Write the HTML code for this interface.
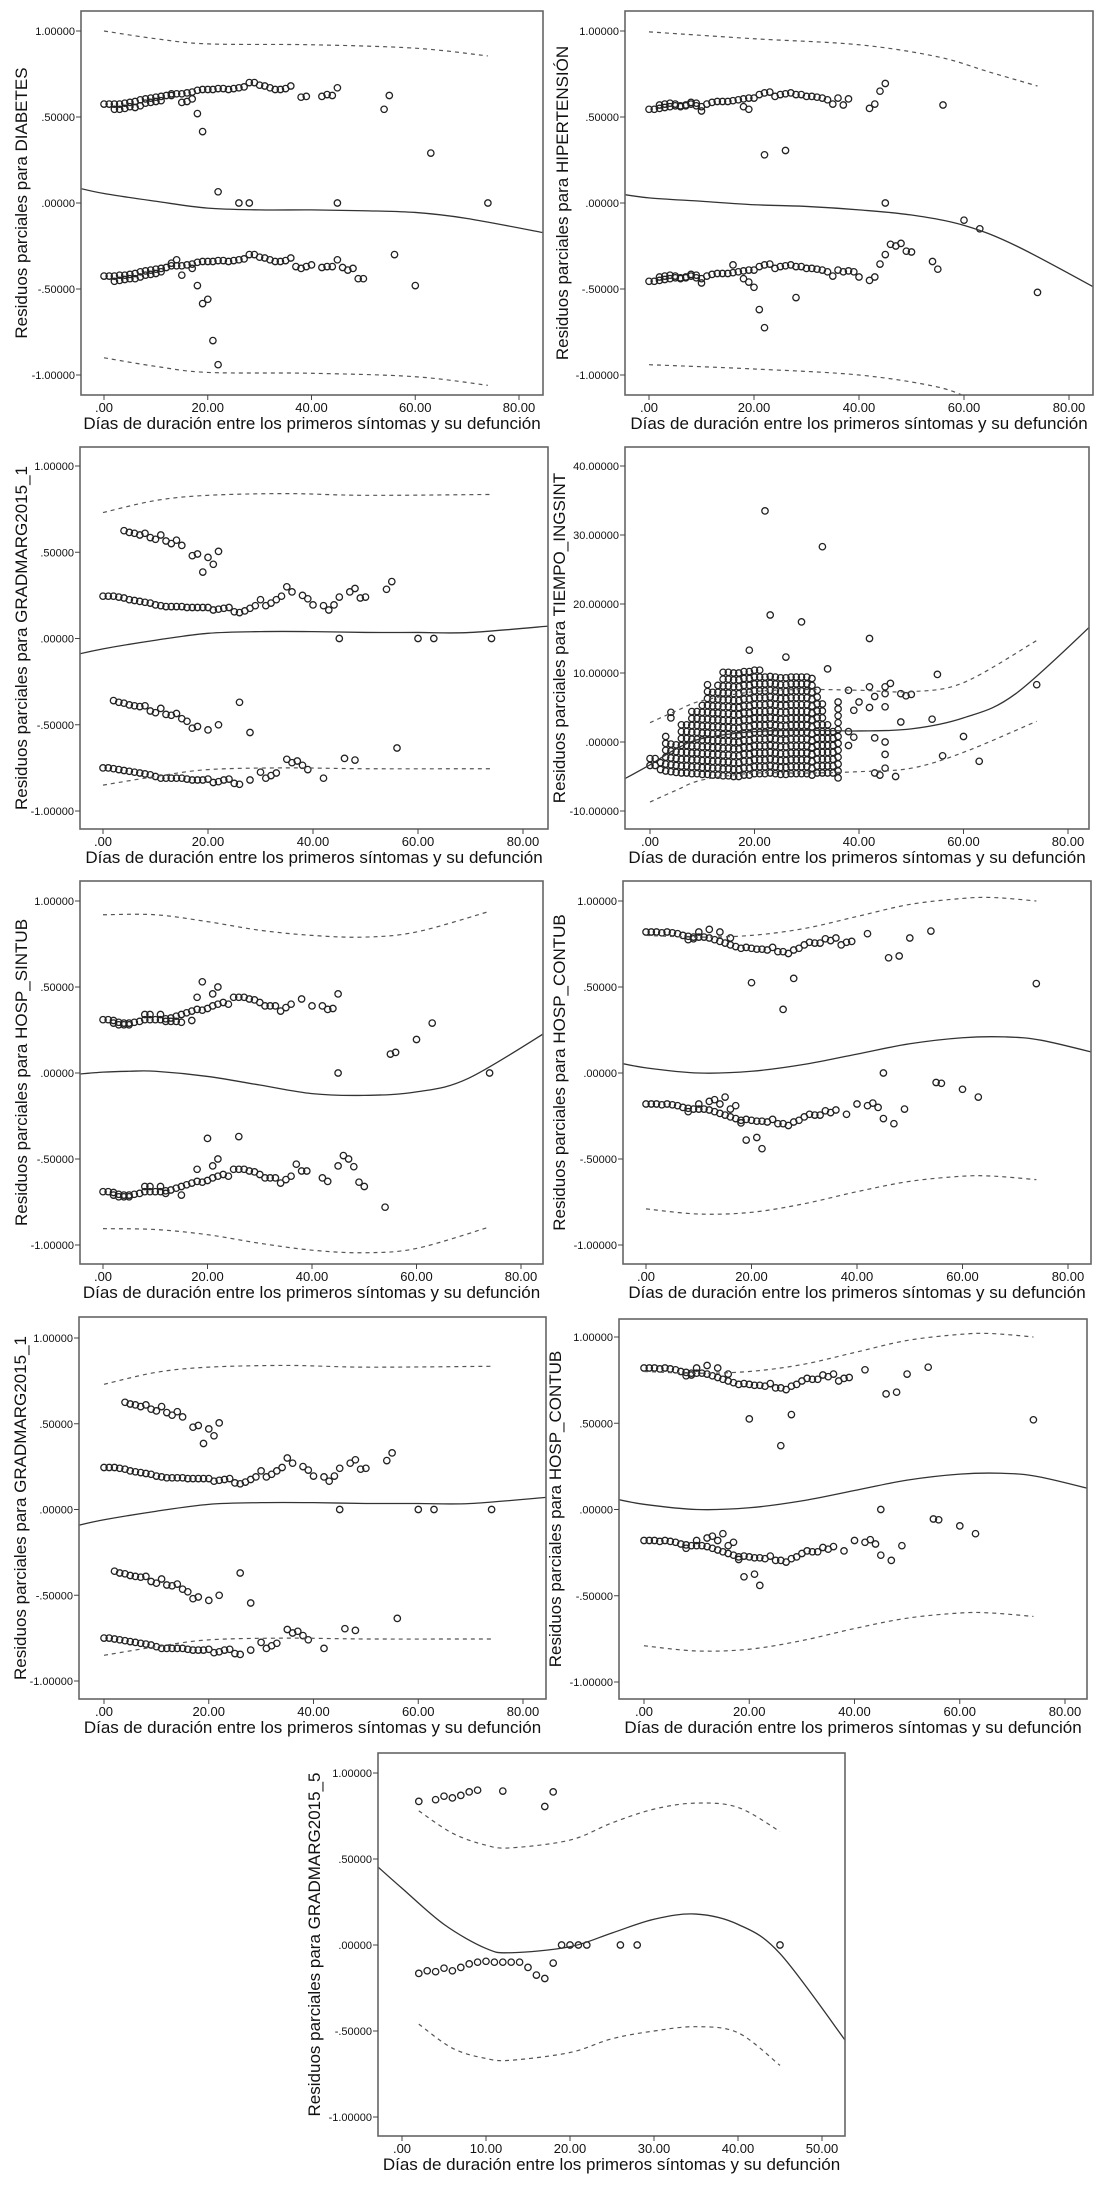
<!DOCTYPE html>
<html><head><meta charset="utf-8"><style>
html,body{margin:0;padding:0;background:#fff;}
svg{display:block;font-family:"Liberation Sans",Arial,sans-serif;}
</style></head><body>
<svg id="fig" width="1100" height="2187" viewBox="0 0 1100 2187" xmlns="http://www.w3.org/2000/svg"></svg>
<script>
// ---------- DATA (x = days, y = partial residual) ----------
const xTicks80 = [0,20,40,60,80];
const xTickLabels80 = [".00","20.00","40.00","60.00","80.00"];
const xTicks50 = [0,10,20,30,40,50];
const xTickLabels50 = [".00","10.00","20.00","30.00","40.00","50.00"];
const yTicksUnit = [1,0.5,0,-0.5,-1];
const yTickLabelsUnit = ["1.00000",".50000",".00000","-.50000","-1.00000"];
const yTicksTiempo = [40,30,20,10,0,-10];
const yTickLabelsTiempo = ["40.00000","30.00000","20.00000","10.00000",".00000","-10.00000"];

// DIABETES
const diabPoints = [[0,.575],[1,.575],[2,.575],[3,.575],[4,.58],[5,.585],[6,.59],[7,.60],[8,.605],[9,.61],[10,.615],[11,.62],[12,.625],[13,.635],[14,.635],[15,.635],[16,.64],[17,.645],[18,.655],[19,.66],[20,.66],[21,.66],[22,.665],[23,.665],[24,.66],[25,.665],[26,.67],[27,.675],[28,.70],[29,.70],[30,.685],[31,.68],[32,.67],[33,.66],[34,.66],[35,.665],[36,.68],
[2,.545],[3,.545],[4,.55],[5,.56],[6,.555],[7,.565],[8,.58],[9,.585],[10,.59],[11,.595],[13,.625],[15,.585],[16,.59],[17,.605],
[18,.52],[19,.415],[22,.065],[26,0],[28,0],[38,.615],[39,.62],[42,.62],[43,.63],[44,.625],[45,.67],[45,0],[54,.545],[55,.625],[63,.29],[74,0],
[0,-.425],[1,-.425],[2,-.425],[3,-.42],[4,-.42],[5,-.415],[6,-.41],[7,-.40],[8,-.395],[9,-.39],[10,-.385],[11,-.38],[12,-.375],[13,-.365],[14,-.365],[15,-.365],[16,-.36],[17,-.355],[18,-.345],[19,-.34],[20,-.34],[21,-.34],[22,-.335],[23,-.335],[24,-.34],[25,-.335],[26,-.33],[27,-.325],[28,-.30],[29,-.30],[30,-.315],[31,-.32],[32,-.33],[33,-.34],[34,-.34],[35,-.335],[36,-.32],
[2,-.455],[3,-.45],[4,-.445],[5,-.44],[6,-.44],[7,-.43],[8,-.42],[9,-.415],[10,-.41],[11,-.40],[13,-.35],[17,-.38],
[14,-.33],[15,-.42],[18,-.48],[19,-.585],[20,-.56],[21,-.80],[22,-.94],[37,-.37],[38,-.38],[39,-.37],[40,-.36],[42,-.375],[43,-.37],[44,-.37],[45,-.33],[46,-.375],[47,-.39],[48,-.38],[49,-.44],[50,-.44],[56,-.30],[60,-.48]];
const diabFit = [[-6,.095],[0,.055],[10,.01],[20,-.03],[30,-.04],[40,-.04],[50,-.045],[60,-.055],[70,-.09],[86,-.18]];
const diabUpper = [[0,1.0],[10,.955],[20,.925],[40,.92],[60,.90],[74,.855]];
const diabLower = [[0,-.90],[10,-.95],[20,-.985],[40,-.99],[60,-1.01],[74,-1.06]];

// HIPERTENSION
const hipPoints = [[0,.545],[1,.545],[2,.55],[3,.555],[4,.56],[5,.565],[6,.565],[7,.57],[8,.575],[9,.565],[10,.56],[11,.575],[12,.585],[13,.59],[14,.59],[15,.59],[16,.595],[17,.60],[18,.605],[19,.61],[20,.61],[21,.63],[22,.64],[23,.645],[24,.62],[25,.63],[26,.635],[27,.64],[28,.63],[29,.63],[30,.62],[31,.62],[32,.615],[33,.61],[34,.60],[35,.575],[36,.61],[37,.57],[38,.605],
[2,.57],[3,.575],[4,.58],[5,.575],[6,.56],[7,.565],[8,.585],[9,.58],[10,.535],
[18,.56],[19,.545],[22,.28],[26,.305],[42,.55],[43,.575],[44,.65],[45,.695],[45,0],[56,.57],[60,-.10],[63,-.15],[74,-.52],
[0,-.455],[1,-.455],[2,-.45],[3,-.445],[4,-.44],[5,-.435],[6,-.435],[7,-.43],[8,-.425],[9,-.435],[10,-.44],[11,-.425],[12,-.415],[13,-.41],[14,-.41],[15,-.41],[16,-.405],[17,-.40],[18,-.395],[19,-.39],[20,-.39],[21,-.37],[22,-.36],[23,-.355],[24,-.38],[25,-.37],[26,-.365],[27,-.36],[28,-.37],[29,-.37],[30,-.38],[31,-.38],[32,-.385],[33,-.39],[34,-.40],[35,-.425],[36,-.39],[37,-.40],[38,-.395],
[2,-.43],[3,-.425],[4,-.42],[5,-.425],[6,-.44],[7,-.435],[8,-.415],[9,-.42],[10,-.465],
[16,-.36],[18,-.44],[19,-.46],[20,-.49],[21,-.62],[22,-.725],[28,-.55],[39,-.40],[40,-.43],[42,-.45],[43,-.43],[44,-.355],[45,-.30],[46,-.24],[47,-.25],[48,-.235],[49,-.28],[50,-.285],[54,-.34],[55,-.385]];
const hipFit = [[-6,.055],[0,.03],[10,.01],[20,-.01],[30,-.02],[40,-.04],[50,-.07],[60,-.13],[70,-.25],[86,-.51]];
const hipUpper = [[0,.995],[20,.955],[40,.92],[55,.85],[65,.76],[74,.68]];
const hipLower = [[0,-.94],[20,-.965],[40,-1.0],[55,-1.07],[62,-1.15]];

// GRADMARG2015_1
const gm1Points = [[4,.625],[5,.615],[6,.61],[7,.60],[8,.61],[9,.585],[10,.575],[11,.60],[12,.565],[13,.55],[14,.57],[15,.54],[17,.48],[18,.49],[19,.385],[20,.47],[21,.43],[22,.505],
[0,.245],[1,.245],[2,.245],[3,.24],[4,.235],[5,.225],[6,.22],[7,.215],[8,.21],[9,.205],[10,.195],[11,.19],[12,.185],[13,.185],[14,.185],[15,.185],[16,.18],[17,.18],[18,.18],[19,.18],[20,.18],[21,.165],[22,.17],[23,.175],[24,.18],[25,.155],[26,.15],[27,.16],[28,.175],[29,.19],[30,.225],[31,.19],[32,.205],[33,.225],[34,.245],[35,.30],[36,.27],[38,.25],[39,.23],[40,.195],[42,.19],[43,.165],[44,.195],[45,.24],[47,.27],[48,.29],[49,.235],[50,.24],[54,.285],[55,.33],
[45,0],[60,0],[63,0],[74,0],
[2,-.36],[3,-.37],[4,-.375],[5,-.385],[6,-.39],[7,-.395],[8,-.39],[9,-.42],[10,-.43],[11,-.405],[12,-.44],[13,-.445],[14,-.435],[15,-.465],[16,-.48],[17,-.52],[18,-.51],[20,-.53],[22,-.50],[26,-.37],[28,-.545],
[0,-.75],[1,-.75],[2,-.755],[3,-.76],[4,-.765],[5,-.77],[6,-.775],[7,-.78],[8,-.785],[9,-.79],[10,-.80],[11,-.81],[12,-.81],[13,-.81],[14,-.81],[15,-.81],[16,-.815],[17,-.82],[18,-.82],[19,-.82],[20,-.815],[21,-.835],[22,-.83],[23,-.82],[24,-.815],[25,-.84],[26,-.845],[28,-.82],[30,-.775],[31,-.81],[32,-.795],[33,-.78],[35,-.70],[36,-.72],[37,-.71],[38,-.735],[39,-.76],[42,-.81],[46,-.695],[48,-.705],[56,-.635]];
const gm1Fit = [[-6,-.10],[0,-.06],[10,-.01],[20,.03],[30,.04],[40,.04],[50,.035],[60,.035],[70,.035],[86,.075]];
const gm1Upper = [[0,.73],[10,.80],[20,.83],[35,.84],[50,.83],[74,.835]];
const gm1Lower = [[0,-.85],[10,-.80],[20,-.76],[35,-.75],[50,-.755],[74,-.755]];

// TIEMPO_INGSINT : dense columns (day, lowest residual, highest residual) + isolated points
const tiempoColDays = [0,1,2,3,4,5,6,7,8,9,10,11,12,13,14,15,16,17,18,19,20,21,22,23,24,25,26,27,28,29,30,31,32,33,34,35,36];
const tiempoColLow  = [-3.4,-3.4,-4,-4.2,-4.3,-4.4,-4.5,-4.5,-4.6,-4.6,-4.7,-4.7,-4.8,-4.8,-4.9,-4.9,-5,-5,-4.8,-4.8,-4.6,-4.6,-4.6,-4.5,-4.6,-4.7,-4.7,-4.6,-4.6,-4.6,-4.6,-4.8,-4.5,-4.5,-4.5,-4.5,-5.2];
const tiempoColHigh = [-2.2,-2.2,-2.2,1.2,0.5,0,3,3,4.8,5,6,8.5,7.5,8.5,10.4,10.4,10.4,10.4,10.4,10.5,10.5,10.5,10.3,10.3,10,9.5,9.5,9.5,9.5,9.5,9.4,9.2,7.5,5.5,2.5,2.2,5.8];
const tiempoPoints = [[4,3.5],[4,4.3],[22,33.5],[33,28.3],[23,18.4],[29,17.4],[19,13.3],[26,12.3],[42,15],[34,10.6],[38,7.5],[40,5.8],[39,4.6],[42,8],[42,5],[43,6.6],[45,8],[45,7],[45,5.1],[46,8.5],[48,7],[49,6.7],[50,6.9],[48,2.9],[54,3.3],[55,9.8],[43,.6],[45,0],[45,-1.8],[43,-4.5],[44,-4.8],[45,-3.8],[47,-5],[38,1.5],[39,.7],[38,-.5],[56,-2],[60,.8],[63,-2.8],[74,8.3]];
const tiempoFit = [[-6,-5.8],[0,-3.3],[5,-1],[10,.5],[20,1.5],[30,1.7],[40,1.6],[50,1.9],[60,3.5],[70,7],[86,18]];
const tiempoUpper = [[0,2.8],[5,4.5],[10,6],[20,7.3],[30,7.6],[40,7.5],[50,7.3],[60,8.6],[74,14.7]];
const tiempoLower = [[0,-8.7],[5,-7],[10,-5.5],[20,-4.5],[30,-4.5],[40,-4.3],[50,-3.8],[60,-1.5],[74,3]];

// HOSP_SINTUB
const hsPoints = [[0,.31],[1,.31],[2,.305],[3,.295],[4,.29],[5,.29],[6,.295],[7,.30],[8,.31],[9,.31],[10,.31],[11,.31],[12,.315],[13,.32],[14,.33],[15,.34],[16,.35],[17,.36],[18,.37],[19,.365],[20,.375],[21,.39],[22,.40],[23,.41],[24,.40],[25,.44],[26,.44],[27,.44],[28,.43],[29,.425],[30,.41],[31,.39],[32,.39],[33,.39],[34,.36],[35,.38],[36,.40],[38,.43],[40,.39],[42,.39],[43,.37],[44,.375],[45,.46],
[2,.29],[3,.28],[4,.28],[5,.28],[8,.34],[9,.34],[11,.34],[12,.30],[13,.30],[14,.30],[15,.295],[17,.305],[18,.44],[19,.53],[21,.46],[22,.50],
[45,0],[55,.11],[56,.12],[60,.195],[63,.29],[74,0],
[0,-.69],[1,-.69],[2,-.695],[3,-.705],[4,-.71],[5,-.71],[6,-.705],[7,-.70],[8,-.69],[9,-.69],[10,-.69],[11,-.69],[12,-.685],[13,-.68],[14,-.67],[15,-.66],[16,-.65],[17,-.64],[18,-.63],[19,-.635],[20,-.625],[21,-.61],[22,-.60],[23,-.59],[24,-.60],[25,-.56],[26,-.56],[27,-.56],[28,-.57],[29,-.575],[30,-.59],[31,-.61],[32,-.61],[33,-.61],[34,-.64],[35,-.62],[36,-.60],[37,-.53],[38,-.57],[39,-.57],[42,-.61],[43,-.63],[45,-.54],[46,-.48],[47,-.50],[48,-.545],[49,-.635],[50,-.66],[54,-.78],
[2,-.71],[3,-.72],[4,-.72],[5,-.72],[8,-.66],[9,-.66],[11,-.66],[12,-.70],[15,-.71],[18,-.56],[20,-.38],[21,-.54],[22,-.50],[26,-.37]];
const hsFit = [[-6,-.01],[0,.005],[5,.01],[10,.01],[20,-.02],[30,-.07],[40,-.12],[50,-.13],[60,-.11],[70,-.03],[86,.26]];
const hsUpper = [[0,.92],[10,.92],[20,.88],[30,.83],[40,.80],[50,.79],[60,.82],[74,.94]];
const hsLower = [[0,-.905],[10,-.91],[20,-.94],[30,-.99],[40,-1.03],[50,-1.045],[60,-1.02],[74,-.895]];

// HOSP_CONTUB
const hcPoints = [[0,.82],[1,.82],[2,.82],[3,.815],[4,.82],[5,.815],[6,.81],[7,.80],[8,.795],[9,.79],[10,.79],[11,.79],[12,.785],[13,.775],[14,.765],[15,.755],[16,.745],[17,.735],[18,.725],[19,.73],[20,.725],[21,.72],[22,.72],[23,.715],[24,.73],[25,.705],[26,.705],[27,.695],[28,.715],[29,.725],[30,.745],[31,.76],[32,.755],[33,.755],[34,.78],[35,.77],[36,.785],[37,.745],[38,.76],[39,.765],[42,.81],
[8,.775],[9,.78],[10,.82],[12,.835],[14,.82],[16,.785],
[20,.525],[26,.37],[28,.55],[46,.67],[48,.68],[50,.785],[54,.825],[74,.52],
[0,-.18],[1,-.18],[2,-.18],[3,-.185],[4,-.18],[5,-.185],[6,-.19],[7,-.20],[8,-.205],[9,-.21],[10,-.21],[11,-.21],[12,-.215],[13,-.225],[14,-.235],[15,-.245],[16,-.255],[17,-.265],[18,-.275],[19,-.27],[20,-.275],[21,-.28],[22,-.28],[23,-.285],[24,-.27],[25,-.295],[26,-.295],[27,-.305],[28,-.285],[29,-.275],[30,-.255],[31,-.24],[32,-.245],[33,-.245],[34,-.22],[35,-.23],[36,-.215],[38,-.24],
[8,-.225],[10,-.18],[12,-.165],[13,-.155],[14,-.18],[15,-.14],[16,-.21],[17,-.19],[18,-.29],[19,-.39],[21,-.375],[22,-.44],
[40,-.18],[42,-.19],[43,-.175],[44,-.20],[45,-.265],[45,0],[47,-.295],[49,-.21],[55,-.055],[56,-.06],[60,-.095],[63,-.14]];
const hcFit = [[-6,.065],[0,.03],[10,.0],[20,.01],[30,.05],[40,.11],[50,.17],[60,.205],[68,.21],[75,.19],[86,.11]];
const hcUpper = [[0,.80],[10,.79],[20,.80],[30,.84],[40,.91],[50,.98],[60,1.015],[66,1.02],[74,1.0]];
const hcLower = [[0,-.79],[10,-.82],[20,-.81],[30,-.76],[40,-.69],[50,-.63],[60,-.60],[66,-.60],[74,-.62]];

// GRADMARG2015_5
const gm5Points = [[2,.835],[4,.845],[5,.865],[6,.855],[7,.87],[8,.89],[9,.90],[12,.895],[17,.805],[18,.89],
[2,-.165],[3,-.15],[4,-.155],[5,-.135],[6,-.15],[7,-.13],[8,-.11],[9,-.10],[10,-.095],[11,-.10],[12,-.10],[13,-.10],[14,-.10],[15,-.13],[16,-.175],[17,-.195],[18,-.105],[19,0],[20,0],[21,0],[22,0],[26,0],[28,0],[45,0]];
const gm5Fit = [[-3,.46],[0,.33],[5,.12],[10,-.02],[13,-.045],[20,-.01],[25,.07],[30,.15],[35,.18],[40,.12],[45,-.05],[53,-.57]];
const gm5Upper = [[2,.78],[6,.65],[10,.58],[13,.565],[20,.61],[25,.71],[30,.79],[35,.825],[40,.80],[45,.66]];
const gm5Lower = [[2,-.46],[6,-.60],[10,-.66],[13,-.67],[20,-.625],[25,-.545],[30,-.50],[35,-.475],[40,-.51],[45,-.70]];

// ---------- RENDERING ----------
const NS = "http://www.w3.org/2000/svg";
const svg = document.getElementById("fig");
const XTITLE = "Días de duración entre los primeros síntomas y su defunción";
function mk(tag, attrs, parent){ const e=document.createElementNS(NS,tag); for(const k in attrs) e.setAttribute(k,attrs[k]); (parent||svg).appendChild(e); return e; }
function smoothPath(pts){
  if(pts.length<2) return "";
  let d="M"+pts[0][0].toFixed(2)+","+pts[0][1].toFixed(2);
  for(let i=0;i<pts.length-1;i++){
    const p0=pts[i-1]||pts[i], p1=pts[i], p2=pts[i+1], p3=pts[i+2]||p2;
    const c1=[p1[0]+(p2[0]-p0[0])/6, p1[1]+(p2[1]-p0[1])/6];
    const c2=[p2[0]-(p3[0]-p1[0])/6, p2[1]-(p3[1]-p1[1])/6];
    d+="C"+c1[0].toFixed(2)+","+c1[1].toFixed(2)+" "+c2[0].toFixed(2)+","+c2[1].toFixed(2)+" "+p2[0].toFixed(2)+","+p2[1].toFixed(2);
  }
  return d;
}
let clipId=0;
function panel(cfg){
  const g=mk("g",{});
  
  
  const f=cfg.frame;
  const sx=v=>cfg.xa[0]+(v-cfg.xa[2])*(cfg.xa[1]-cfg.xa[0])/(cfg.xa[3]-cfg.xa[2]);
  const sy=v=>cfg.ya[0]+(v-cfg.ya[2])*(cfg.ya[1]-cfg.ya[0])/(cfg.ya[3]-cfg.ya[2]);
  const id="clip"+(clipId++);
  const cp=mk("clipPath",{id:id},g); mk("rect",{x:f.x,y:f.y,width:f.w,height:f.h},cp);
  const plot=mk("g",{"clip-path":"url(#"+id+")"},g);
  
  
  // points
  const pts=mk("g",{fill:"none",stroke:"#222","stroke-width":"1.3"},plot);
  
  
  if(cfg.cols){
    for(let i=0;i<cfg.cols.days.length;i++){
      for(let v=cfg.cols.low[i]; v<=cfg.cols.high[i]+1e-6; v+=1){
        const c=mk("circle",{cx:sx(cfg.cols.days[i]).toFixed(1),cy:sy(v).toFixed(1),r:"3.2"},pts);
        
        
      }
    }
  }
  cfg.points.forEach(p=>{
    const c=mk("circle",{cx:sx(p[0]).toFixed(1),cy:sy(p[1]).toFixed(1),r:"3.2"},pts);
    
    
  });
  // curves
  const fit=mk("path",{d:smoothPath(cfg.fit.map(p=>[sx(p[0]),sy(p[1])])),fill:"none",stroke:"#333","stroke-width":"1.3"},plot);
  
  
  const up=mk("path",{d:smoothPath(cfg.upper.map(p=>[sx(p[0]),sy(p[1])])),fill:"none",stroke:"#555","stroke-width":"1.2","stroke-dasharray":"4 4"},plot);
  
  
  const lo=mk("path",{d:smoothPath(cfg.lower.map(p=>[sx(p[0]),sy(p[1])])),fill:"none",stroke:"#555","stroke-width":"1.2","stroke-dasharray":"4 4"},plot);
  
  
  // frame
  const fr=mk("rect",{x:f.x,y:f.y,width:f.w,height:f.h,fill:"none",stroke:"#666","stroke-width":"1.6"},g);
  
  
  // y ticks
  const yax=mk("g",{},g);
  
  
  cfg.yTicks.forEach((v,i)=>{
    const y=sy(v);
    mk("line",{x1:f.x-5,x2:f.x,y1:y,y2:y,stroke:"#444","stroke-width":"1"},yax);
    const t=mk("text",{x:f.x-6,y:y+4,"text-anchor":"end","font-size":"11",fill:"#111"},yax);
    t.textContent=cfg.yLabels[i];
    
    
  });
  const yt=mk("text",{x:0,y:0,"text-anchor":"middle","font-size":"17",fill:"#111",transform:"translate("+(f.x-cfg.ytOff)+","+(f.y+f.h/2)+") rotate(-90)"},g);
  yt.textContent=cfg.ytitle;
  
  
  // x ticks
  const xax=mk("g",{},g);
  
  
  cfg.xTicks.forEach((v,i)=>{
    const x=sx(v);
    mk("line",{x1:x,x2:x,y1:f.y+f.h,y2:f.y+f.h+5,stroke:"#444","stroke-width":"1"},xax);
    const t=mk("text",{x:x,y:f.y+f.h+17,"text-anchor":"middle","font-size":"13",fill:"#111"},xax);
    t.textContent=cfg.xLabels[i];
    
    
  });
  const xt=mk("text",{x:f.x+f.w/2,y:f.y+f.h+34,"text-anchor":"middle","font-size":"17",fill:"#111"},g);
  xt.textContent=XTITLE;
  
  
}

const U=[yTicksUnit,yTickLabelsUnit];
panel({name:"diabetes-plot",frame:{x:81,y:11,w:462,h:384},xa:[104,519,0,80],ya:[31,375,1,-1],points:diabPoints,fit:diabFit,upper:diabUpper,lower:diabLower,yTicks:U[0],yLabels:U[1],xTicks:xTicks80,xLabels:xTickLabels80,ytitle:"Residuos parciales para DIABETES",ytOff:54});
panel({name:"hipertension-plot",frame:{x:625,y:11,w:468,h:384},xa:[649,1069,0,80],ya:[31,375,1,-1],points:hipPoints,fit:hipFit,upper:hipUpper,lower:hipLower,yTicks:U[0],yLabels:U[1],xTicks:xTicks80,xLabels:xTickLabels80,ytitle:"Residuos parciales para HIPERTENSIÓN",ytOff:57});
panel({name:"gradmarg2015-1-plot",frame:{x:80,y:447,w:468,h:382},xa:[103,523,0,80],ya:[466,811,1,-1],points:gm1Points,fit:gm1Fit,upper:gm1Upper,lower:gm1Lower,yTicks:U[0],yLabels:U[1],xTicks:xTicks80,xLabels:xTickLabels80,ytitle:"Residuos parciales para GRADMARG2015_1",ytOff:53});
panel({name:"tiempo-ingsint-plot",frame:{x:625,y:447,w:464,h:382},xa:[650,1068,0,80],ya:[466,811,40,-10],points:tiempoPoints,cols:{days:tiempoColDays,low:tiempoColLow,high:tiempoColHigh},fit:tiempoFit,upper:tiempoUpper,lower:tiempoLower,yTicks:yTicksTiempo,yLabels:yTickLabelsTiempo,xTicks:xTicks80,xLabels:xTickLabels80,ytitle:"Residuos parciales para TIEMPO_INGSINT",ytOff:60});
panel({name:"hosp-sintub-plot",frame:{x:80,y:881,w:463,h:383},xa:[103,521,0,80],ya:[901,1245,1,-1],points:hsPoints,fit:hsFit,upper:hsUpper,lower:hsLower,yTicks:U[0],yLabels:U[1],xTicks:xTicks80,xLabels:xTickLabels80,ytitle:"Residuos parciales para HOSP_SINTUB",ytOff:53});
panel({name:"hosp-contub-plot",frame:{x:623,y:881,w:468,h:383},xa:[646,1068,0,80],ya:[901,1245,1,-1],points:hcPoints,fit:hcFit,upper:hcUpper,lower:hcLower,yTicks:U[0],yLabels:U[1],xTicks:xTicks80,xLabels:xTickLabels80,ytitle:"Residuos parciales para HOSP_CONTUB",ytOff:58});
panel({name:"gradmarg2015-1-plot-repeat",frame:{x:79,y:1317,w:467,h:382},xa:[104,523,0,80],ya:[1338,1681,1,-1],points:gm1Points,fit:gm1Fit,upper:gm1Upper,lower:gm1Lower,yTicks:U[0],yLabels:U[1],xTicks:xTicks80,xLabels:xTickLabels80,ytitle:"Residuos parciales para GRADMARG2015_1",ytOff:53});
panel({name:"hosp-contub-plot-repeat",frame:{x:619,y:1319,w:468,h:380},xa:[644,1065,0,80],ya:[1337,1682,1,-1],points:hcPoints,fit:hcFit,upper:hcUpper,lower:hcLower,yTicks:U[0],yLabels:U[1],xTicks:xTicks80,xLabels:xTickLabels80,ytitle:"Residuos parciales para HOSP_CONTUB",ytOff:58});
panel({name:"gradmarg2015-5-plot",frame:{x:378,y:1753,w:467,h:383},xa:[402,822,0,50],ya:[1773,2117,1,-1],points:gm5Points,fit:gm5Fit,upper:gm5Upper,lower:gm5Lower,yTicks:U[0],yLabels:U[1],xTicks:xTicks50,xLabels:xTickLabels50,ytitle:"Residuos parciales para GRADMARG2015_5",ytOff:58});
</script>
</body></html>
